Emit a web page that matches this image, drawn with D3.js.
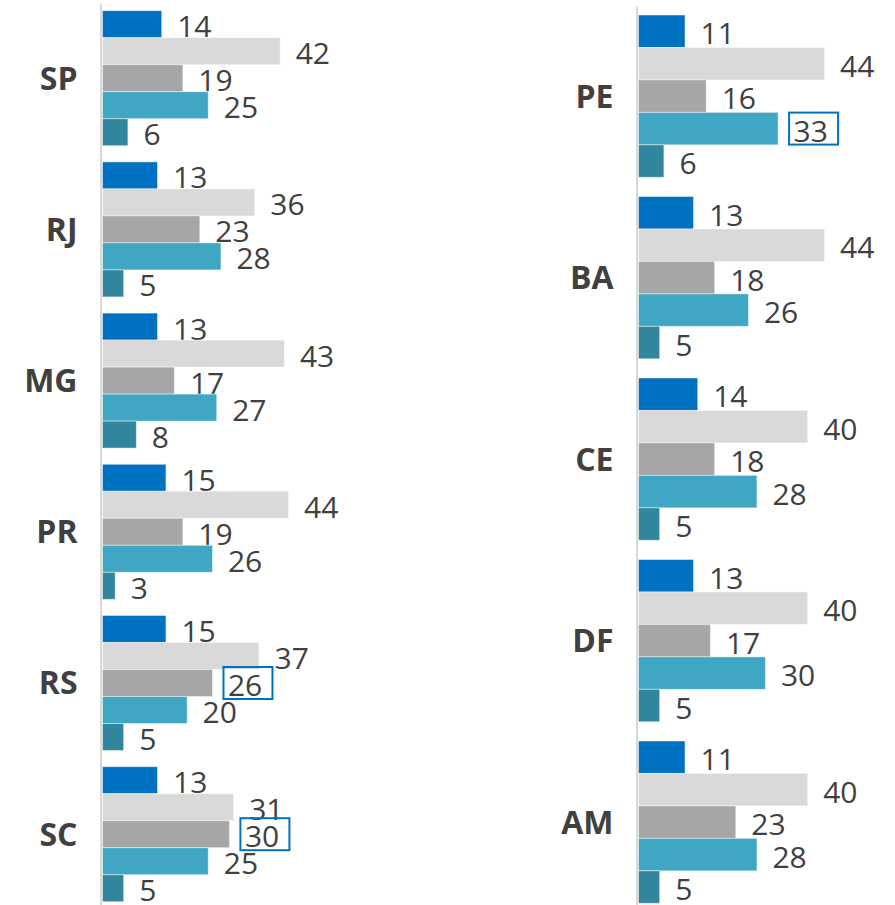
<!DOCTYPE html>
<html>
<head>
<meta charset="utf-8">
<script src="https://cdn.jsdelivr.net/npm/d3@7"></script>
<style>
  html, body { margin: 0; padding: 0; background: #ffffff; }
  svg { display: block; }
  text { font-family: "Open Sans", "Noto Sans", sans-serif; fill: #404040; }
</style>
</head>
<body>
<svg id="chart" width="895" height="905"></svg>
<script>
// Left panel: states
const leftCategories = ["SP", "RJ", "MG", "PR", "RS", "SC"];
const leftSeries1 = [14, 13, 13, 15, 15, 13];
const leftSeries2 = [42, 36, 43, 44, 37, 31];
const leftSeries3 = [19, 23, 17, 19, 26, 30];
const leftSeries4 = [25, 28, 27, 26, 20, 25];
const leftSeries5 = [6, 5, 8, 3, 5, 5];

// Right panel: states
const rightCategories = ["PE", "BA", "CE", "DF", "AM"];
const rightSeries1 = [11, 13, 14, 13, 11];
const rightSeries2 = [44, 44, 40, 40, 40];
const rightSeries3 = [16, 18, 18, 17, 23];
const rightSeries4 = [33, 26, 28, 30, 28];
const rightSeries5 = [6, 5, 5, 5, 5];

const seriesKeys = ["s1", "s2", "s3", "s4", "s5"];
const seriesColors = ["#0070C0", "#D9D9D9", "#A6A6A6", "#3FA6C4", "#31859C"];

// Values shown with an outline box: [category, series]
const leftHighlights = [["RS", "s3"], ["SC", "s3"]];
const rightHighlights = [["PE", "s4"]];

function buildRows(categories, seriesArrays) {
  return categories.map((c, i) => {
    const row = { category: c };
    seriesKeys.forEach((k, j) => { row[k] = seriesArrays[j][i]; });
    return row;
  });
}

const svg = d3.select("#chart");
const pxPerUnit = 4.23;
const xMax = 44;

function drawPanel(opts) {
  const { rows, axisX, yRange, padInner, padOuter, highlights } = opts;
  const g = svg.append("g");
  const x0 = axisX + 1.5;

  const x = d3.scaleLinear().domain([0, xMax]).range([x0, x0 + xMax * pxPerUnit]);
  const y = d3.scaleBand()
    .domain(rows.map(d => d.category))
    .range(yRange)
    .paddingInner(padInner)
    .paddingOuter(padOuter);
  const ySub = d3.scaleBand().domain(seriesKeys).range([0, y.bandwidth()]);
  const color = d3.scaleOrdinal().domain(seriesKeys).range(seriesColors);

  // vertical category axis line
  g.append("line")
    .attr("x1", axisX).attr("x2", axisX)
    .attr("y1", yRange[0] + 1).attr("y2", 905)
    .attr("stroke", "#D9D9D9").attr("stroke-width", 2);

  const groups = g.selectAll("g.group")
    .data(rows)
    .join("g")
    .attr("class", "group")
    .attr("transform", d => `translate(0,${y(d.category)})`);

  const items = groups.selectAll("g.item")
    .data(d => seriesKeys.map(k => ({ category: d.category, key: k, value: d[k] })))
    .join("g")
    .attr("class", "item");

  items.append("rect")
    .attr("x", x(0))
    .attr("y", d => ySub(d.key))
    .attr("width", d => x(d.value) - x(0))
    .attr("height", ySub.bandwidth())
    .attr("fill", d => color(d.key))
    .attr("stroke", "#ffffff")
    .attr("stroke-opacity", 0.45)
    .attr("stroke-width", 1);

  const isHighlighted = d => highlights.some(h => h[0] === d.category && h[1] === d.key);

  items.filter(isHighlighted)
    .append("rect")
    .attr("x", d => x(d.value) + 11)
    .attr("y", d => ySub(d.key) + ySub.bandwidth() / 2 - 16)
    .attr("width", 49)
    .attr("height", 32)
    .attr("fill", "none")
    .attr("stroke", "#0070C0")
    .attr("stroke-width", 2);

  items.append("text")
    .attr("x", d => x(d.value) + 15.5)
    .attr("y", d => ySub(d.key) + ySub.bandwidth() / 2 + 13)
    .attr("font-size", 30)
    .text(d => d.value);

  // category labels
  groups.append("text")
    .attr("x", axisX - 23.5)
    .attr("y", y.bandwidth() / 2 + 11.5)
    .attr("text-anchor", "end")
    .attr("font-size", 32)
    .attr("font-weight", 700)
    .text(d => d.category);
}

drawPanel({
  rows: buildRows(leftCategories, [leftSeries1, leftSeries2, leftSeries3, leftSeries4, leftSeries5]),
  axisX: 101,
  yRange: [2.6, 909.8],
  padInner: 0.107,
  padOuter: 0.0535,
  highlights: leftHighlights
});

drawPanel({
  rows: buildRows(rightCategories, [rightSeries1, rightSeries2, rightSeries3, rightSeries4, rightSeries5]),
  axisX: 637,
  yRange: [5.4, 912.9],
  padInner: 0.106,
  padOuter: 0.053,
  highlights: rightHighlights
});
</script>
</body>
</html>
